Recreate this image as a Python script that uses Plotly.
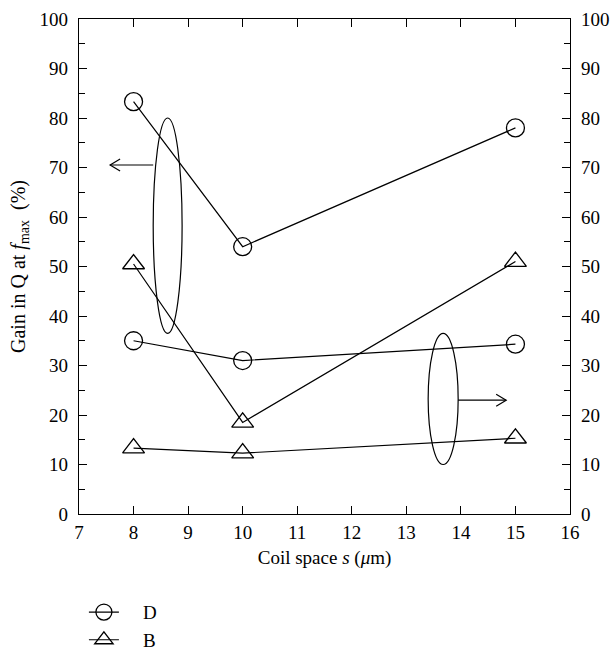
import plotly.graph_objects as go

x_vals = [8, 10, 15]
d_upper = [83.3, 54.0, 78.0]
d_lower = [35.0, 31.0, 34.3]
b_upper = [50.5, 18.5, 51.0]
b_lower = [13.3, 12.3, 15.3]
series_names = ["D", "B"]

FONT = "Liberation Serif"
FS = 19
fig = go.Figure()

def add(y, sym, name, show):
    fig.add_trace(go.Scatter(
        x=x_vals, y=y, mode="lines+markers", name="\u2002\u2002" + name, legendgroup=name,
        showlegend=show,
        line=dict(color="black", width=1.2),
        marker=dict(symbol=sym, size=18 if sym == "circle-open" else 19,
                    color="black", line=dict(width=1.3, color="black")),
    ))

add(d_upper, "circle-open", series_names[0], True)
add(d_lower, "circle-open", series_names[0], False)
add(b_upper, "triangle-up-open", series_names[1], True)
add(b_lower, "triangle-up-open", series_names[1], False)

fig.add_trace(go.Scatter(x=[None], y=[None], yaxis="y2", showlegend=False))

LN = dict(color="black", width=1.2)
# ellipses
fig.add_shape(type="circle", xref="x", yref="y", x0=8.36, x1=8.89, y0=36.5, y1=80, line=LN)
fig.add_shape(type="circle", xref="x", yref="y", x0=13.40, x1=13.95, y0=10, y1=36.5, line=LN)

# arrows (shaft + open chevron head)
dx, dy = 10 * 9 / 491, 6 * 100 / 495
fig.add_shape(type="line", xref="x", yref="y", x0=8.36, x1=7.57, y0=70.5, y1=70.5, line=LN)
fig.add_shape(type="path", xref="x", yref="y",
              path=f"M {7.57+dx},{70.5+dy} L 7.57,70.5 L {7.57+dx},{70.5-dy}", line=LN)
fig.add_shape(type="line", xref="x", yref="y", x0=13.95, x1=14.83, y0=23, y1=23, line=LN)
fig.add_shape(type="path", xref="x", yref="y",
              path=f"M {14.83-dx},{23+dy} L 14.83,23 L {14.83-dx},{23-dy}", line=LN)

axis_common = dict(showline=True, linecolor="black", linewidth=1.2, ticks="inside",
                   tickcolor="black", ticklen=8, tickwidth=1.2, showgrid=False,
                   zeroline=False, automargin=False,
                   tickfont=dict(family=FONT, size=FS, color="black"))

fig.update_layout(
    width=613, height=652,
    margin=dict(l=79, r=43, t=19, b=138, autoexpand=False),
    plot_bgcolor="white", paper_bgcolor="white",
    font=dict(family=FONT, size=FS, color="black"),
    xaxis=dict(range=[7, 16], dtick=1, mirror="ticks", ticklabelstandoff=1,
               title=dict(text="Coil space <i>s</i> (<i>μ</i>m)", font=dict(family=FONT, size=FS), standoff=8),
               **axis_common),
    yaxis=dict(range=[0, 100], dtick=10, mirror=True, ticklabelstandoff=6,
               minor=dict(dtick=5, ticks="inside", ticklen=6, tickcolor="black", tickwidth=1.2),
               title=dict(text="Gain in Q at <i>f</i><sub>max</sub>  (%)", font=dict(family=FONT, size=20), standoff=8),
               **axis_common),
    yaxis2=dict(range=[0, 100], dtick=10, overlaying="y", side="right", ticklabelstandoff=6,
                minor=dict(dtick=5, ticks="inside", ticklen=6, tickcolor="black", tickwidth=1.2),
                **axis_common),
    legend=dict(x=0.01, y=-0.16, xanchor="left", yanchor="top", bgcolor="rgba(0,0,0,0)",
                font=dict(family=FONT, size=FS), tracegroupgap=0, itemwidth=30),
    showlegend=True,
)

fig.write_html("out.html", config={"displayModeBar": False},
               post_script="document.body.style.margin='0px';")
